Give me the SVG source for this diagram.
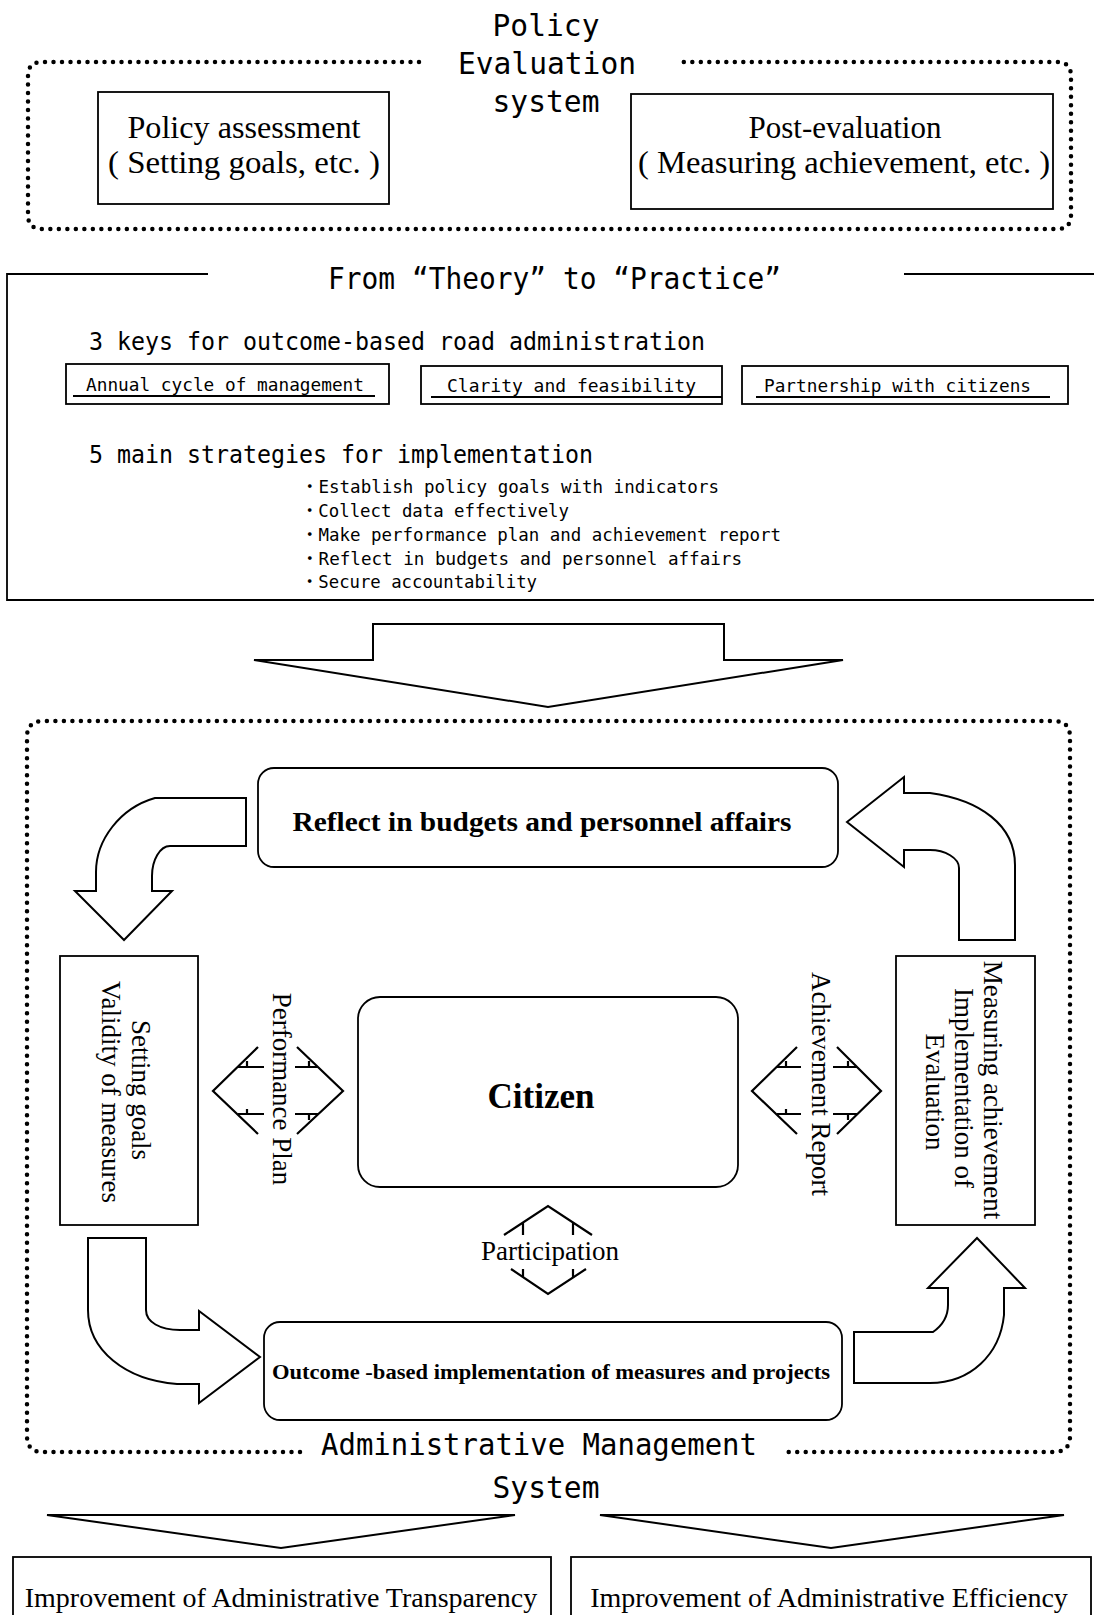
<svg xmlns="http://www.w3.org/2000/svg" width="1094" height="1615" viewBox="0 0 1094 1615">
<style>
.mono{font-family:"DejaVu Sans Mono","Liberation Mono","Noto Sans CJK JP",monospace;fill:#000}
.serif{font-family:"Liberation Serif","Times New Roman",serif;fill:#000}
.bold{font-weight:bold}
.box{fill:#fff;stroke:#000;stroke-width:1.8}
.ln{fill:none;stroke:#000;stroke-width:1.8}
.arrow{fill:#fff;stroke:#000;stroke-width:2;stroke-linejoin:miter}
.dot{fill:none;stroke:#000;stroke-width:4.5;stroke-dasharray:0 8.5;stroke-linecap:round}
.thin{fill:none;stroke:#000;stroke-width:2.2}
</style>
<rect width="1094" height="1615" fill="#fff"/>

<!-- Policy Evaluation system frame -->
<g id="policy-evaluation-system">
  <path class="dot" d="M 419 62 H 42 Q 28 62 28 76 V 215 Q 28 229 42 229 H 1057 Q 1071 229 1071 215 V 76 Q 1071 62 1057 62 H 677"/>
  <text class="mono" x="546" y="36" font-size="29.6" text-anchor="middle">Policy</text>
  <text class="mono" x="547" y="74" font-size="29.6" text-anchor="middle">Evaluation</text>
  <text class="mono" x="546" y="112" font-size="29.6" text-anchor="middle">system</text>
</g>
<g id="policy-assessment">
  <rect class="box" x="98" y="92" width="291" height="112"/>
  <text class="serif" x="244" y="138" font-size="31" text-anchor="middle" textLength="233" lengthAdjust="spacingAndGlyphs">Policy assessment</text>
  <text class="serif" x="244" y="173" font-size="31" text-anchor="middle" textLength="272" lengthAdjust="spacingAndGlyphs">( Setting goals, etc. )</text>
</g>
<g id="post-evaluation">
  <rect class="box" x="631" y="94" width="422" height="115"/>
  <text class="serif" x="845" y="138" font-size="31" text-anchor="middle">Post-evaluation</text>
  <text class="serif" x="844" y="173" font-size="31" text-anchor="middle" textLength="412" lengthAdjust="spacingAndGlyphs">( Measuring achievement, etc. )</text>
</g>

<!-- From Theory to Practice -->
<g id="theory-to-practice">
  <path class="ln" d="M 208 274 H 7 V 600 H 1100 M 904 274 H 1100"/>
  <text class="mono" x="328" y="289" font-size="30" textLength="453" lengthAdjust="spacingAndGlyphs">From “Theory” to “Practice”</text>
  <text class="mono" x="89" y="350" font-size="24" textLength="616" lengthAdjust="spacingAndGlyphs">3 keys for outcome-based road administration</text>
  <text class="mono" x="89" y="463" font-size="24" textLength="504" lengthAdjust="spacingAndGlyphs">5 main strategies for implementation</text>
  <text class="mono" x="301" y="493" font-size="18" textLength="418" lengthAdjust="spacingAndGlyphs">・Establish policy goals with indicators</text>
  <text class="mono" x="301" y="517" font-size="18" textLength="268" lengthAdjust="spacingAndGlyphs">・Collect data effectively</text>
  <text class="mono" x="301" y="541" font-size="18" textLength="480" lengthAdjust="spacingAndGlyphs">・Make performance plan and achievement report</text>
  <text class="mono" x="301" y="565" font-size="18" textLength="441" lengthAdjust="spacingAndGlyphs">・Reflect in budgets and personnel affairs</text>
  <text class="mono" x="301" y="588" font-size="18" textLength="236" lengthAdjust="spacingAndGlyphs">・Secure accountability</text>
</g>
<g id="key-annual-cycle">
  <rect class="box" x="66" y="364" width="323" height="40"/>
  <line class="ln" x1="73" y1="396" x2="375" y2="396"/>
  <text class="mono" x="86" y="391" font-size="17.8" textLength="278" lengthAdjust="spacingAndGlyphs">Annual cycle of management</text>
</g>
<g id="key-clarity">
  <rect class="box" x="421" y="366" width="301" height="38"/>
  <line class="ln" x1="431" y1="397" x2="722" y2="397"/>
  <text class="mono" x="447" y="392" font-size="18" textLength="249" lengthAdjust="spacingAndGlyphs">Clarity and feasibility</text>
</g>
<g id="key-partnership">
  <rect class="box" x="742" y="366" width="326" height="38"/>
  <line class="ln" x1="756" y1="397" x2="1050" y2="397"/>
  <text class="mono" x="764" y="392" font-size="17.7" textLength="267" lengthAdjust="spacingAndGlyphs">Partnership with citizens</text>
</g>

<!-- Administrative Management System frame -->
<g id="administrative-management-system">
  <path class="dot" d="M 300 1452 H 43 Q 27 1452 27 1436 V 737 Q 27 721 43 721 H 1054 Q 1070 721 1070 737 V 1436 Q 1070 1452 1054 1452 H 782"/>
  <text class="mono" x="321" y="1455" font-size="29.6" textLength="436" lengthAdjust="spacingAndGlyphs">Administrative Management</text>
  <text class="mono" x="546" y="1498" font-size="29.6" text-anchor="middle">System</text>
</g>

<g id="reflect-budgets">
  <rect class="box" x="258" y="768" width="580" height="99" rx="16"/>
  <text class="serif bold" x="542" y="831" font-size="28" text-anchor="middle" textLength="499" lengthAdjust="spacingAndGlyphs">Reflect in budgets and personnel affairs</text>
</g>
<g id="setting-goals">
  <rect class="box" x="60" y="956" width="138" height="269"/>
  <text class="serif" font-size="27" text-anchor="middle" transform="translate(132,1090) rotate(90)">Setting goals</text>
  <text class="serif" font-size="27" text-anchor="middle" transform="translate(102,1092) rotate(90)">Validity of measures</text>
</g>
<g id="citizen">
  <rect class="box" x="358" y="997" width="380" height="190" rx="22"/>
  <text class="serif bold" x="541" y="1108" font-size="35" text-anchor="middle">Citizen</text>
</g>
<g id="measuring-achievement">
  <rect class="box" x="896" y="956" width="139" height="269"/>
  <text class="serif" font-size="27" text-anchor="middle" transform="translate(984,1090) rotate(90)">Measuring achievement</text>
  <text class="serif" font-size="27" text-anchor="middle" transform="translate(955,1088) rotate(90)">Implementation of</text>
  <text class="serif" font-size="27" text-anchor="middle" transform="translate(926,1092) rotate(90)">Evaluation</text>
</g>
<g id="outcome-implementation">
  <rect class="box" x="264" y="1322" width="578" height="98" rx="16"/>
  <text class="serif bold" x="551" y="1379" font-size="22" text-anchor="middle" textLength="558" lengthAdjust="spacingAndGlyphs">Outcome -based implementation of measures and projects</text>
</g>
<g id="improvement-transparency">
  <rect class="box" x="13" y="1557" width="538" height="70"/>
  <text class="serif" x="281" y="1607" font-size="28" text-anchor="middle">Improvement of Administrative Transparency</text>
</g>
<g id="improvement-efficiency">
  <rect class="box" x="571" y="1557" width="520" height="70"/>
  <text class="serif" x="829" y="1607" font-size="28" text-anchor="middle">Improvement of Administrative Efficiency</text>
</g>

<!-- Connectors -->
<g id="connectors">
  <polygon class="arrow" points="373,624 724,624 724,660 843,660 548,707 254,660 373,660"/>
  <path class="arrow" d="M 246 798 L 155 798 C 120 808, 96 840, 96 872 L 96 891 L 75 891 L 124 940 L 172 891 L 152 891 L 152 876 C 152 860, 160 846, 170 846 L 246 846 Z"/>
  <path class="arrow" d="M 847 822 L 904 777 L 904 793 L 930 793 C 980 800, 1015 825, 1015 865 L 1015 940 L 959 940 L 959 868 C 959 858, 945 850, 930 850 L 904 850 L 904 867 Z"/>
  <path class="arrow" d="M 88 1238 L 146 1238 L 146 1310 C 146 1322, 160 1330, 180 1330 L 199 1330 L 199 1311 L 260 1357 L 199 1403 L 199 1384 L 177 1384 C 125 1380, 88 1350, 88 1310 Z"/>
  <path class="arrow" d="M 854 1332 L 933 1332 C 943 1325, 948 1315, 948 1305 L 948 1288 L 928 1288 L 977 1238 L 1025 1288 L 1004 1288 L 1004 1315 C 1000 1355, 970 1383, 930 1383 L 854 1383 Z"/>
  <path class="thin" d="M 258 1047 L 213 1091 L 258 1134 M 238 1067 H 264 M 238 1114 H 264 M 247 1061 V 1068 M 247 1109 V 1114 M 297 1047 L 343 1091 L 297 1134 M 295 1067 H 318 M 295 1114 H 318 M 309 1061 V 1067 M 309 1114 V 1120"/>
  <text class="serif" font-size="27" text-anchor="middle" transform="translate(273,1089) rotate(90)">Performance Plan</text>
  <path class="thin" d="M 797 1047 L 752 1091 L 797 1134 M 777 1067 H 801 M 777 1114 H 801 M 786 1061 V 1068 M 786 1109 V 1114 M 837 1047 L 881 1091 L 837 1134 M 833 1067 H 857 M 833 1114 H 857 M 848 1061 V 1067 M 848 1114 V 1120"/>
  <text class="serif" font-size="27" text-anchor="middle" transform="translate(812,1084) rotate(90)">Achievement Report</text>
  <path class="thin" d="M 504 1235 L 548 1206 L 592 1235 M 523 1222 V 1235 M 573 1222 V 1235 M 511 1269 L 548 1294 L 586 1269 M 523 1269 V 1277 M 573 1269 V 1277"/>
  <text class="serif" x="550" y="1260" font-size="27" text-anchor="middle">Participation</text>
  <polygon class="arrow" points="47,1515 515,1515 281,1548"/>
  <polygon class="arrow" points="600,1515 1064,1515 831,1548"/>
</g>
</svg>
